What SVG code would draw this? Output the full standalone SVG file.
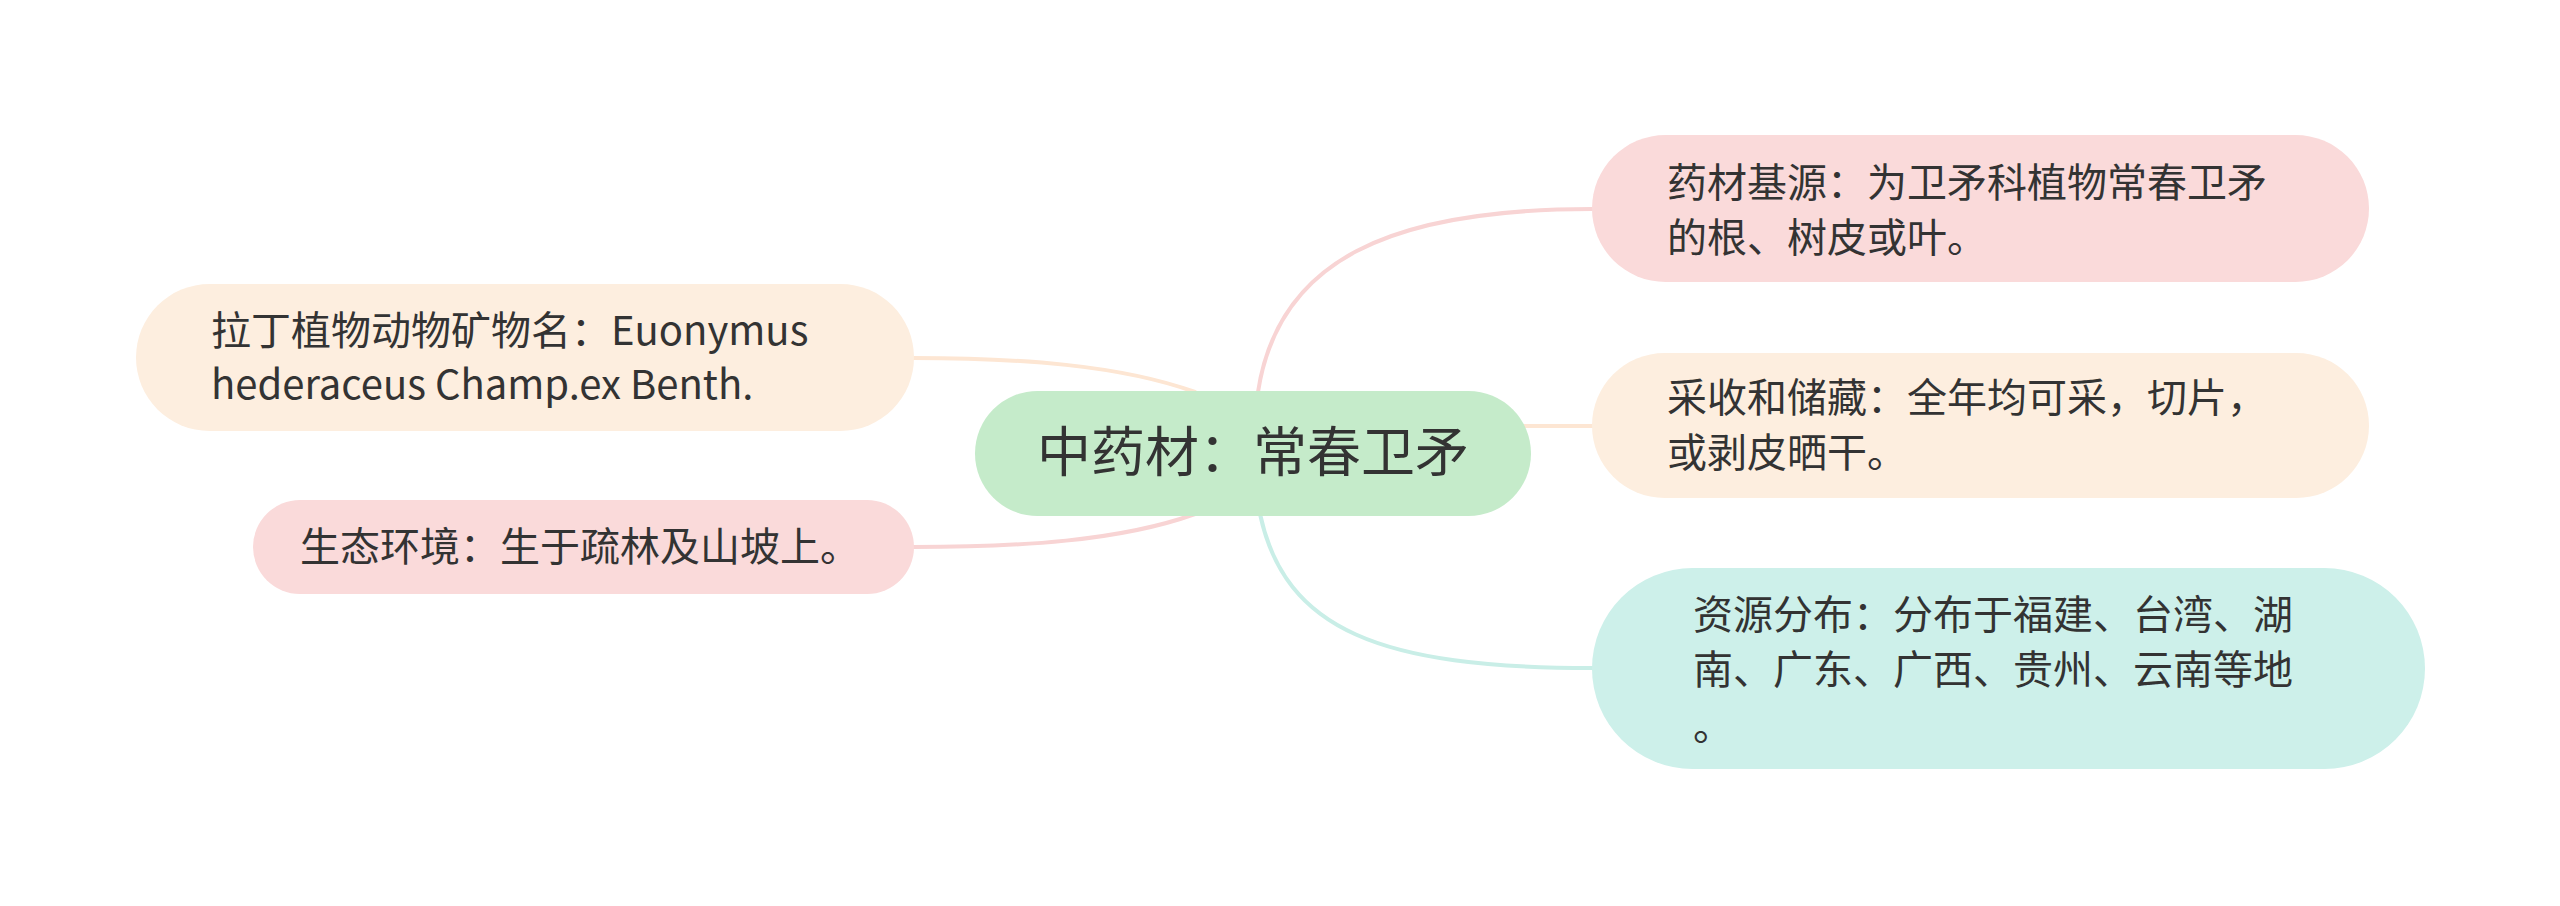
<svg xmlns="http://www.w3.org/2000/svg" width="2560" height="906" viewBox="0 0 2560 906">
<style>
.t{font-family:"Noto Sans CJK SC","Noto Sans",sans-serif;font-size:40px;fill:#333333}
.c{fill:none;stroke-width:4;stroke-linecap:round}
.pk{fill:#fadada}
.pc{fill:#fdeedf}
.mt{fill:#cdf0ea}
</style>
<rect width="2560" height="906" fill="#ffffff"/>
<g id="connectors">
<path class="c" stroke="#f8d4d4" d="M1258 392 C1278 260 1390 209 1592 209"/>
<path class="c" stroke="#fde6d3" d="M1500 426 L1592 426"/>
<path class="c" stroke="#c9eee7" d="M1260 514 C1285 630 1380 668 1592 668"/>
<path class="c" stroke="#fde6d3" d="M1195 392 C1120 365 1020 358 913 358"/>
<path class="c" stroke="#f8d4d4" d="M1195 514 C1120 541 1020 547 913 547"/>
</g>
<g id="center">
<rect x="975" y="391" width="556" height="125" rx="62.5" fill="#c5ebca"/>
<text x="1253" y="472" text-anchor="middle" style="font-family:'Noto Sans CJK SC','Noto Sans',sans-serif;font-size:54px;fill:#333333">中药材：常春卫矛</text>
</g>
<g id="node-source">
<rect class="pk" x="1592" y="135" width="777" height="147" rx="73.5"/>
<text class="t" x="1667" y="197">药材基源：为卫矛科植物常春卫矛</text>
<text class="t" x="1667" y="252">的根、树皮或叶。</text>
</g>
<g id="node-harvest">
<rect class="pc" x="1592" y="353" width="777" height="145" rx="72.5"/>
<text class="t" x="1667" y="412">采收和储藏：全年均可采，切片，</text>
<text class="t" x="1667" y="467">或剥皮晒干。</text>
</g>
<g id="node-distribution">
<rect class="mt" x="1592" y="568" width="833" height="201" rx="100.5"/>
<text class="t" x="1693" y="629">资源分布：分布于福建、台湾、湖</text>
<text class="t" x="1693" y="684">南、广东、广西、贵州、云南等地</text>
<text class="t" x="1693" y="740">。</text>
</g>
<g id="node-latin">
<rect class="pc" x="136" y="284" width="778" height="147" rx="73.5"/>
<text class="t" x="211" y="345">拉丁植物动物矿物名：Euonymus</text>
<text class="t" x="211" y="399">hederaceus Champ.ex Benth.</text>
</g>
<g id="node-habitat">
<rect class="pk" x="253" y="500" width="661" height="94" rx="47"/>
<text class="t" x="300" y="561">生态环境：生于疏林及山坡上。</text>
</g>
</svg>
